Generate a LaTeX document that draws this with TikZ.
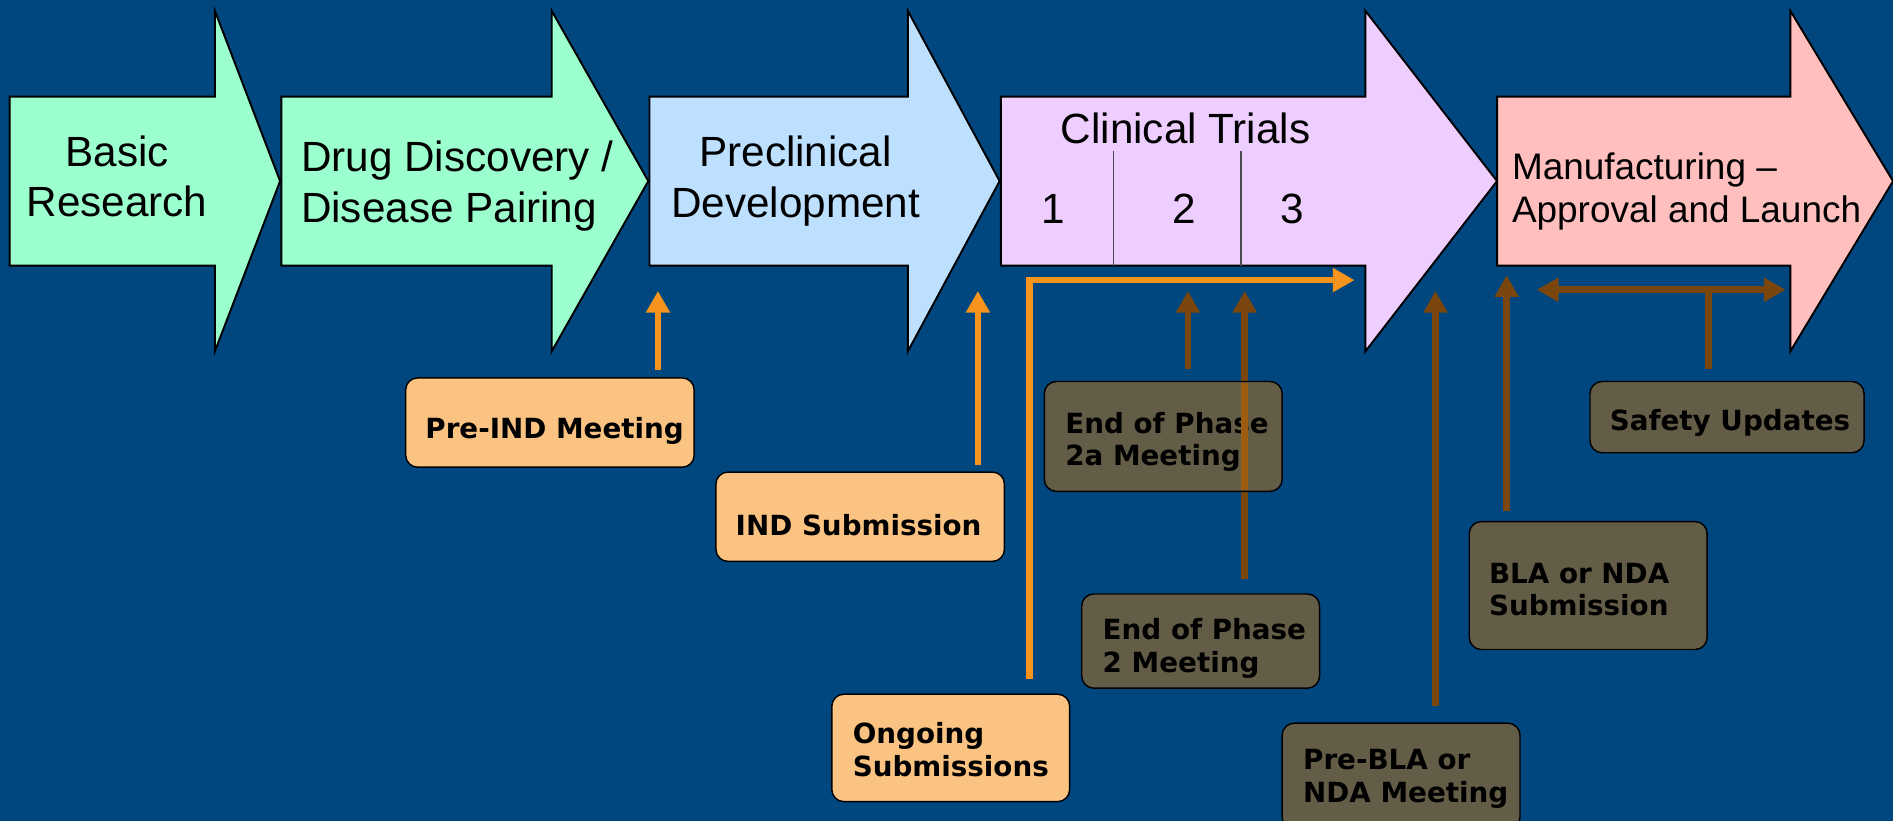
\documentclass[tikz,border=0pt]{standalone}
\usepackage{fontspec}
\setmainfont{Liberation Sans}
\newfontfamily\boxfont{DejaVu Sans}
\usetikzlibrary{arrows.meta}
\definecolor{bgblue}{RGB}{0,71,127}
\definecolor{mint}{RGB}{156,255,206}
\definecolor{skyb}{RGB}{189,224,255}
\definecolor{lav}{RGB}{238,205,255}
\definecolor{pinkc}{RGB}{255,191,191}
\definecolor{boxor}{RGB}{250,195,130}
\definecolor{boxdk}{RGB}{99,92,70}
\definecolor{orline}{RGB}{247,148,29}
\definecolor{brline}{RGB}{122,70,14}
\definecolor{brover}{RGB}{158,92,16}
\newcommand\stagearrow[4]{%
  \draw[stage, fill=#1] (#2,80) -- (#3,80) -- (#3,9) -- (#4,150) -- (#3,291) -- (#3,220) -- (#2,220) -- cycle;}
\tikzset{
  stage/.style={draw=black, line width=0.8pt, line join=miter},
  stagetext/.style={inner sep=0pt, font=\fontsize{17.5pt}{21pt}\selectfont, text=black},
  evbox/.style={draw=black, line width=0.6pt, rounded corners=5pt, inner sep=0pt},
  orbox/.style={evbox, fill=boxor},
  dkbox/.style={evbox, fill=boxdk},
  evtext/.style={anchor=west, inner sep=0pt, align=left, text=black,
    font=\boxfont\bfseries\fontsize{11.5pt}{13.5pt}\selectfont},
  oarrow/.style={draw=orline, line width=2.75pt, line join=miter, -{Triangle[width=9.5pt,length=9pt]}},
  barrow/.style={draw=brline, line width=2.75pt, -{Triangle[width=9.5pt,length=9pt]}},
  bline/.style={draw=brline, line width=2.75pt},
}
\begin{document}
\begin{tikzpicture}[x=0.5pt,y=-0.5pt]
\fill[bgblue] (0,0) rectangle (1568,680);
\useasboundingbox (0,0) rectangle (1568,680);

% stage arrows
\stagearrow{mint}{8}{178}{232}
\stagearrow{mint}{233}{457}{537}
\stagearrow{skyb}{538}{752}{828}
\stagearrow{lav}{829}{1131}{1240}
\stagearrow{pinkc}{1240}{1483}{1568}
\draw[black!70, line width=0.5pt] (922,125) -- (922,220);
\draw[black!70, line width=0.5pt] (1028,125) -- (1028,220);

\node[stagetext, align=center] (basic) at (97,146) {Basic\\Research};
\node[stagetext, align=left, anchor=west] (drug) at (249,154) {Drug Discovery /\\Disease Pairing};
\node[stagetext, align=center] (precl) at (659,150) {Preclinical\\Development};
\node[stagetext] (clin) at (982,106) {Clinical Trials};
\node[stagetext] (ph1) at (872,173) {1};
\node[stagetext] (ph2) at (981,173) {2};
\node[stagetext] (ph3) at (1070,173) {3};
\node[stagetext, align=left, anchor=west, font=\fontsize{15.3pt}{17.5pt}\selectfont] (manu) at (1252,158.5) {Manufacturing --\\Approval and Launch};

% event boxes (orange)
\node[orbox, minimum width=119.5pt, minimum height=37pt] (preind) at (455.5,350) {};
\node[evtext] (preindL) at (352,357) {Pre-IND Meeting};
\node[orbox, minimum width=119.5pt, minimum height=37pt] (ind) at (712.5,428) {};
\node[evtext] (indL) at (609,435) {IND Submission};
\node[orbox, minimum width=98.5pt, minimum height=44.5pt] (ongoing) at (787.5,619.5) {};
\node[evtext] (ongoingL) at (706,621) {Ongoing\\Submissions};

% connector passing under the 2a box
\coordinate (eop2T) at (1031,241);
\draw[barrow, shorten <=6pt] (1031,492) -- (eop2T);

% event boxes (dark)
\node[dkbox, minimum width=98.5pt, minimum height=45.5pt] (eop2a) at (963.5,361.5) {};
\node[evtext] (eop2aL) at (882,366) {End of Phase\\2a Meeting};
\node[dkbox, minimum width=98.5pt, minimum height=39pt] (eop2) at (994.5,531) {};
\node[evtext] (eop2L) at (913,537) {End of Phase\\2 Meeting};
\node[dkbox, minimum width=98.5pt, minimum height=44pt] (prebla) at (1160.5,643) {};
\node[evtext] (preblaL) at (1079,645) {Pre-BLA or\\NDA Meeting};
\node[dkbox, minimum width=98.5pt, minimum height=53pt] (bla) at (1315.5,485) {};
\node[evtext] (blaL) at (1233,488.5) {BLA or NDA\\Submission};
\node[dkbox, minimum width=113.5pt, minimum height=29.5pt] (safety) at (1430.5,345.5) {};
\node[evtext] (safetyL) at (1333,350) {Safety Updates};

% line shown over the 2a box
\draw[draw=brover, line width=2.75pt] (1031,317) -- (1031,406);

% orange connectors
\coordinate (preindT) at (545,241);
\coordinate (indT) at (810,241);
\coordinate (ongBend) at (853,232);
\coordinate (ongT) at (1122,232);
\draw[oarrow, shorten <=3pt] (preind.north -| preindT) -- (preindT);
\draw[oarrow, shorten <=2.5pt] (ind.north -| indT) -- (indT);
\draw[oarrow, shorten <=6pt] (ongoing.north -| ongBend) -- (ongBend) -- (ongT);

% brown connectors
\coordinate (eop2aT) at (984,241);
\coordinate (preblaT) at (1189,241);
\coordinate (blaT) at (1248,228);
\coordinate (safeJ) at (1415,240);
\coordinate (safeL) at (1273,240);
\coordinate (safeR) at (1479,240);
\draw[barrow, shorten <=5pt] (eop2a.north -| eop2aT) -- (eop2aT);
\draw[barrow, shorten <=7pt] (prebla.north -| preblaT) -- (preblaT);
\draw[barrow, shorten <=4pt] (bla.north -| blaT) -- (blaT);
\draw[bline, shorten <=5pt] (safety.north -| safeJ) -- (safeJ);
\draw[barrow, {Triangle[width=9.5pt,length=9pt]}-{Triangle[width=9.5pt,length=9pt]}] (safeL) -- (safeR);
\end{tikzpicture}
\end{document}
